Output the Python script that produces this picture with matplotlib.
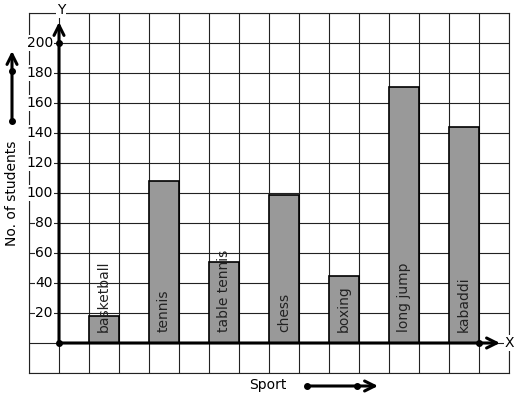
import matplotlib
matplotlib.use('Agg')
import matplotlib.pyplot as plt

sports = ['basketball', 'tennis', 'table tennis', 'chess', 'boxing', 'long jump', 'kabaddi']
students = [18, 108, 54, 99, 45, 171, 144]
bar_left = [1, 3, 5, 7, 9, 11, 13]
y_ticks = [20, 40, 60, 80, 100, 120, 140, 160, 180, 200]

fig = plt.figure(figsize=(5.17, 3.99), dpi=100)
W, H = 517, 399
ax = fig.add_axes([29 / W, (H - 373) / H, 480 / W, 360 / H])
ax.set_xlim(-1, 15)
ax.set_ylim(-20, 220)

# graph paper grid
ax.set_xticks(range(-1, 16))
ax.set_yticks(range(-20, 221, 20))
ax.grid(True, color='#222222', linewidth=0.8)
ax.tick_params(length=0, labelbottom=False, labelleft=False)
for s in ax.spines.values():
    s.set_linewidth(0.8)
    s.set_color('#222222')
ax.set_axisbelow(True)

# bars
ax.bar(bar_left, students, width=1, align='edge', color='#999999',
       edgecolor='black', linewidth=1.2, zorder=3)
for x, name in zip(bar_left, sports):
    ax.text(x + 0.5, 7, name, rotation=90, ha='center', va='bottom',
            fontsize=10, color='#222222', zorder=4)

# axes with arrows
ax.annotate('', xy=(14.7, 0), xytext=(0, 0),
            arrowprops=dict(arrowstyle='->', lw=2.2, color='black',
                            mutation_scale=18, shrinkA=0, shrinkB=0), zorder=5)
ax.annotate('', xy=(0, 214), xytext=(0, 0),
            arrowprops=dict(arrowstyle='->', lw=2.2, color='black',
                            mutation_scale=18, shrinkA=0, shrinkB=0),
            zorder=5, annotation_clip=False)
ax.plot([0, 0, 14], [0, 200, 0], 'o', color='black', markersize=4, zorder=6)

# tick labels
for v in y_ticks:
    ax.text(-0.2, v, str(v), ha='right', va='center', fontsize=10,
            bbox=dict(facecolor='white', edgecolor='none', pad=0.5), zorder=4)

ax.text(0.07, 222, 'Y', ha='center', va='center', fontsize=10, clip_on=False,
        bbox=dict(facecolor='white', edgecolor='none', pad=0.5), zorder=5)
ax.text(15.0, 0, 'X', ha='center', va='center', fontsize=10, clip_on=False,
        bbox=dict(facecolor='white', edgecolor='none', pad=0.5), zorder=5)

# axis titles with arrows
fig.text(12 / W, 1 - 193 / H, 'No. of students', rotation=90,
         ha='center', va='center', fontsize=10)
fig.text(268 / W, 1 - 385 / H, 'Sport', ha='center', va='center', fontsize=10)

fig.patches.append(matplotlib.patches.FancyArrowPatch(
    (12 / W, 1 - 121 / H), (12 / W, 1 - 51 / H), transform=fig.transFigure,
    arrowstyle='->', lw=2.2, color='black', mutation_scale=18,
    shrinkA=0, shrinkB=0))
fig.patches.append(matplotlib.patches.FancyArrowPatch(
    (307 / W, 1 - 386 / H), (378 / W, 1 - 386 / H), transform=fig.transFigure,
    arrowstyle='->', lw=2.2, color='black', mutation_scale=18,
    shrinkA=0, shrinkB=0))
for px, py in [(12, 121), (12, 71), (307, 386), (357, 386)]:
    fig.lines.append(matplotlib.lines.Line2D([px / W], [1 - py / H], marker='o',
                                             color='black', markersize=4,
                                             transform=fig.transFigure))

fig.savefig('out.png', dpi=100)
